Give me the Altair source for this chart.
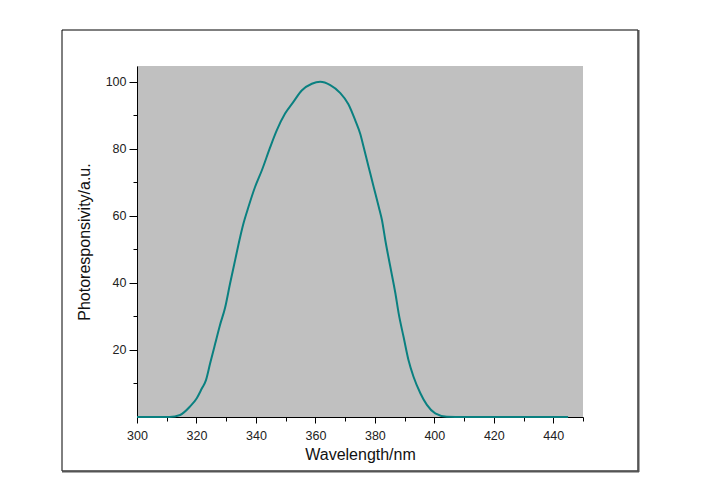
import altair as alt
import pandas as pd

wavelength = [300, 311, 314.5, 317.8, 320.1, 321.8, 323.2, 324.6, 326.3, 327.9,
              329.6, 331.3, 333.0, 334.7, 335.8, 337.5, 339.7, 342.0, 344.8, 347.0,
              349.8, 352.6, 355.4, 358.8, 361.6, 365.0, 368.3, 371.1, 373.4, 375.1,
              376.2, 377.9, 379.6, 381.3, 382.4, 383.5, 385.2, 386.9, 388.0, 389.7,
              391.3, 393.0, 395.3, 397.5, 400.3, 404.2, 410, 445]
response = [0, 0, 0.6, 3.1, 5.6, 8.5, 11.0, 16.0, 21.9, 27.4,
            32.5, 39.8, 46.8, 53.7, 57.7, 62.7, 68.6, 73.6, 80.5, 85.5,
            90.5, 94.0, 97.4, 99.4, 100.0, 99.0, 96.7, 93.3, 88.5, 84.4,
            80.6, 74.6, 68.6, 62.7, 58.7, 52.8, 44.8, 36.9, 30.9, 23.7,
            17.0, 12.0, 7.1, 3.6, 1.1, 0.1, 0, 0]

x_major = [300, 320, 340, 360, 380, 400, 420, 440]
x_minor = [310, 330, 350, 370, 390, 410, 430, 450]
y_major = [20, 40, 60, 80, 100]
y_minor = [10, 30, 50, 70, 90]

df = pd.DataFrame({"wl": wavelength, "r": response})

FONT = "Liberation Sans"
xscale = alt.Scale(domain=[300, 450], nice=False, zero=False)
yscale = alt.Scale(domain=[0, 104.7], nice=False)

common_axis = dict(domainColor="black", domainWidth=1, tickColor="black", tickWidth=1,
                   grid=False, labelFont=FONT, titleFont=FONT, labelColor="#222222",
                   titleColor="#111111", labelFontSize=12.5, titleFontSize=16,
                   titleFontWeight="normal")

line = alt.Chart(df).mark_line(color="#0a8080", strokeWidth=2, interpolate="monotone").encode(
    x=alt.X("wl:Q", scale=xscale,
            axis=alt.Axis(values=x_major, tickSize=6, labelPadding=6,
                          title="Wavelength/nm", titlePadding=5, orient="bottom",
                          format="d", labelFlush=False, labelOverlap=False, **common_axis)),
    y=alt.Y("r:Q", scale=yscale,
            axis=alt.Axis(values=y_major, tickSize=8, labelPadding=3,
                          title="Photoresponsivity/a.u.", titlePadding=13, orient="left",
                          format="d", labelFlush=False, labelOverlap=False, **common_axis)),
)

minor = alt.Chart(df).mark_line(opacity=0).encode(
    x=alt.X("wl:Q", scale=xscale,
            axis=alt.Axis(values=x_minor, tickSize=4, labels=False, title=None,
                          orient="bottom", domain=False, tickColor="black", grid=False)),
    y=alt.Y("r:Q", scale=yscale,
            axis=alt.Axis(values=y_minor, tickSize=4, labels=False, title=None,
                          orient="left", domain=False, tickColor="black", grid=False)),
)

one = alt.Data(values=[{"a": 1}])
frame = alt.Chart(one).mark_rect(fill=None, stroke="black", strokeWidth=1, clip=False).encode(
    x=alt.value(-75), x2=alt.value(501), y=alt.value(-36), y2=alt.value(405))
right_edge = alt.Chart(one).mark_rule(color="#555555", strokeWidth=2, clip=False).encode(
    x=alt.value(501.5), y=alt.value(-36), y2=alt.value(406))
bottom_edge = alt.Chart(one).mark_rule(color="#555555", strokeWidth=2, clip=False).encode(
    x=alt.value(-75), x2=alt.value(502), y=alt.value(405.5))

chart = alt.layer(line, minor, frame, right_edge, bottom_edge).resolve_axis(
    x="independent", y="independent"
).properties(
    width=446, height=351,
    background="white",
    autosize=alt.AutoSizeParams(type="none"),
    padding={"left": 129, "top": 58, "right": 100, "bottom": 60},
).configure_view(fill="#c0c0c0", stroke=None)

chart.save("out.html", embed_options={"renderer": "svg", "actions": False})
